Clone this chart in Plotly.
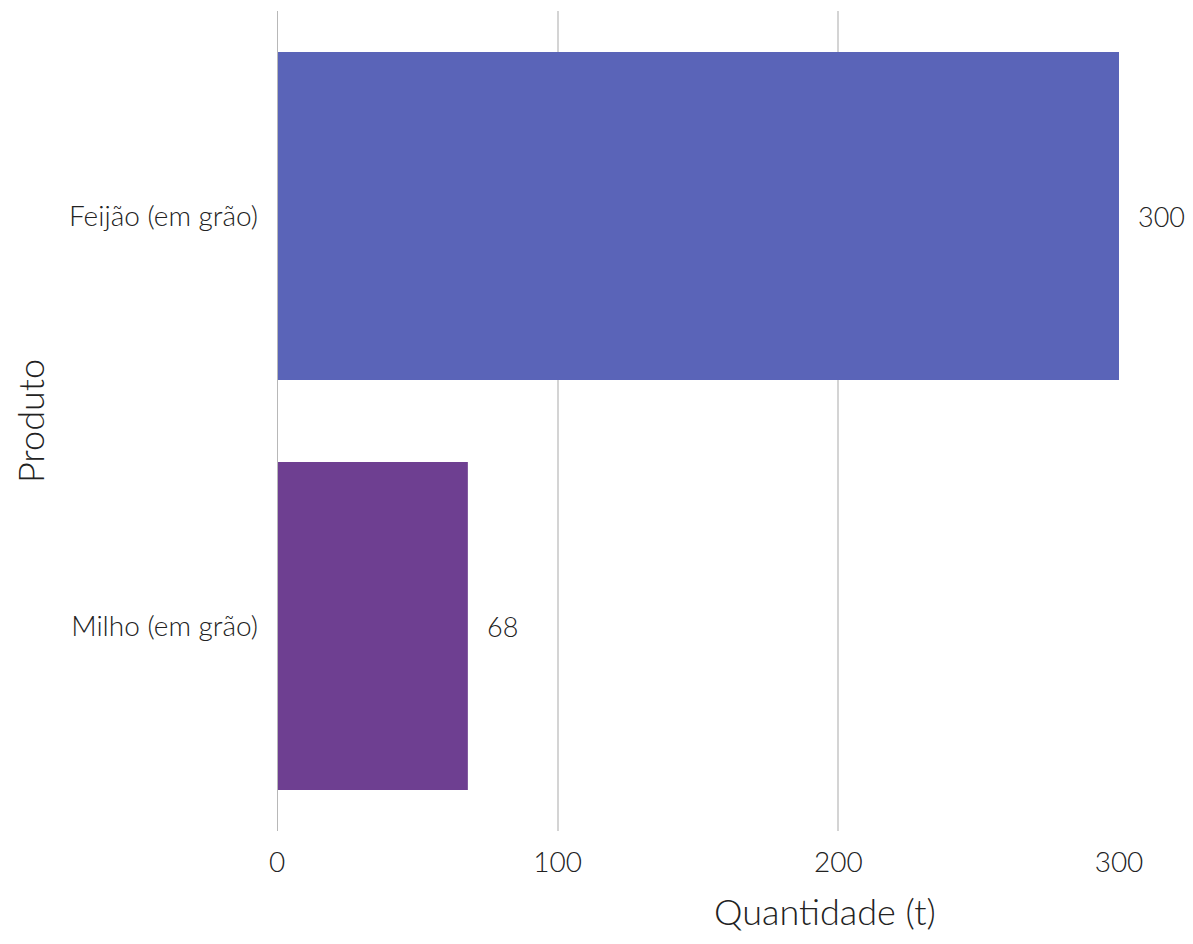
import plotly.graph_objects as go

produtos = ["Feijão (em grão)", "Milho (em grão)"]
quantidades = [300, 68]
cores = ["#5A64B8", "#6E3F91"]
x_ticks = [0, 100, 200, 300]

FONT = "Lato"
TXT = "#222222"

fig = go.Figure()
fig.add_trace(go.Bar(
    y=produtos,
    x=quantidades,
    orientation="h",
    marker=dict(color=cores, line=dict(width=0)),
    cliponaxis=False,
    hoverinfo="x+y",
))

annotations = [
    dict(x=v, y=p, xref="x", yref="y", text=str(v), showarrow=False,
         xanchor="left", yanchor="middle", xshift=17,
         font=dict(family=FONT, size=27, color=TXT, weight=300))
    for p, v in zip(produtos, quantidades)
]
annotations.append(dict(
    x=0.651, y=0, xref="paper", yref="paper", text="Quantidade (t)", showarrow=False,
    xanchor="center", yanchor="middle", yshift=-80,
    font=dict(family=FONT, size=36, color=TXT, weight=300)))

fig.update_layout(
    width=1177, height=928,
    plot_bgcolor="white", paper_bgcolor="white",
    margin=dict(l=269, r=66, t=3, b=105),
    bargap=0.2,
    showlegend=False,
    font=dict(family=FONT, color=TXT, weight=300),
    annotations=annotations,
    xaxis=dict(
        range=[0, 300],
        tickvals=x_ticks,
        ticktext=[str(t) for t in x_ticks],
        showgrid=True, gridcolor="#d4d4d4", gridwidth=1.5,
        zeroline=False,
        showline=False,
        ticks="", ticklabelstandoff=12,
        tickfont=dict(family=FONT, size=28, color=TXT, weight=300),
    ),
    yaxis=dict(
        autorange="reversed",
        showgrid=False,
        zeroline=False,
        showline=False,
        ticks="", ticklabelstandoff=18,
        tickfont=dict(family=FONT, size=28, color=TXT, weight=300),
        title=dict(text="Produto", font=dict(family=FONT, size=36, color=TXT, weight=300), standoff=27),
    ),
    shapes=[dict(type="line", xref="x", yref="paper", x0=0, x1=0, y0=0, y1=1,
                 line=dict(color="#b8b8b8", width=2), layer="above")],
)

fig.write_html("out.html")
